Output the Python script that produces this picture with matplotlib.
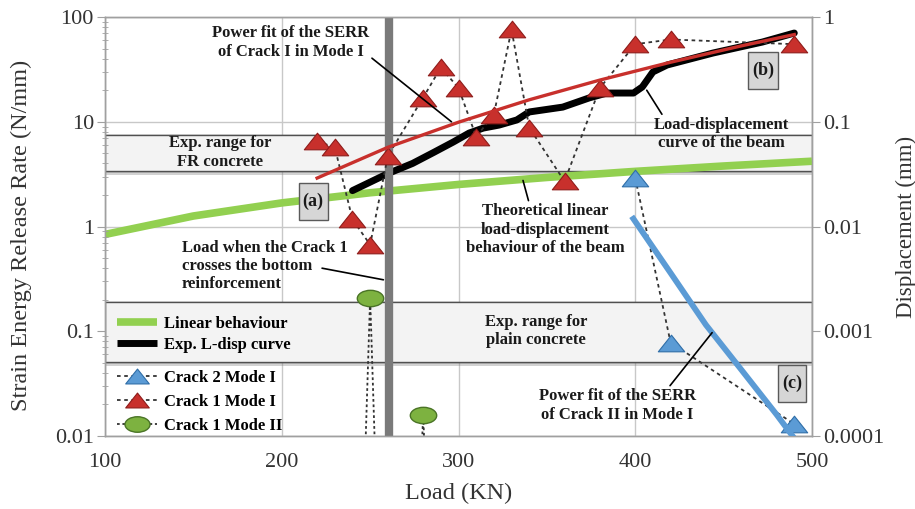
import numpy as np
import matplotlib
matplotlib.use('Agg')
import matplotlib.pyplot as plt
from matplotlib.path import Path
from matplotlib.lines import Line2D
import matplotlib.patheffects as pe

# ---------------- data ----------------
load_c1m1 = [220, 230, 240, 250, 260, 280, 290, 300, 310, 320, 330, 340, 360, 380, 400, 420, 490]
serr_c1m1 = [6.5, 5.7, 1.17, 0.67, 4.7, 17, 33, 21, 7.2, 11.7, 76, 8.8, 2.7, 21, 55, 61, 55]
load_c2m1 = [400, 420, 490]
serr_c2m1 = [2.9, 0.078, 0.013]
load_c1m2 = [240, 250, 260, 270, 280, 290]
serr_c1m2 = [1e-6, 0.21, 1e-6, 1e-6, 0.016, 1e-6]
fit1_load = [220, 260, 300, 340, 380, 420, 460, 490]
fit1_serr = [2.9, 5.7, 9.9, 16.2, 25, 37, 53, 68]
fit2_load = [398, 420, 440, 460, 480, 490]
fit2_serr = [1.25, 0.36, 0.115, 0.043, 0.016, 0.0095]
lin_load = [100, 150, 200, 250, 300, 350, 400, 450, 500]
lin_disp = [0.0084, 0.0126, 0.0168, 0.021, 0.0252, 0.0294, 0.0336, 0.0378, 0.042]
exp_load = [240, 260, 274, 286, 297, 306, 314, 323, 333, 340, 359, 374, 384, 399, 404, 410, 418, 444, 472, 490]
exp_disp = [0.022, 0.032, 0.040, 0.051, 0.064, 0.078, 0.087, 0.093, 0.104, 0.124, 0.138, 0.169,
            0.188, 0.188, 0.215, 0.299, 0.348, 0.453, 0.577, 0.703]
fr_range = [3.4, 7.4]        # N/mm
plain_range = [0.051, 0.19]  # N/mm
reinf_load = 260.5
xticks = [100, 200, 300, 400, 500]
yticks_l = [0.01, 0.1, 1, 10, 100]
yticklabels_l = ['0.01', '0.1', '1', '10', '100']
yticks_r = [0.0001, 0.001, 0.01, 0.1, 1]
yticklabels_r = ['0.0001', '0.001', '0.01', '0.1', '1']

# ---------------- style ----------------
SERIF = 'Liberation Serif'
plt.rcParams['font.family'] = [SERIF, 'DejaVu Serif']
RED = '#C8302C'
RED_E = '#8E1C1A'
BLUE = '#5B9BD5'
BLUE_E = '#2F6EA8'
GREEN = '#92D050'
GREEN_C = '#7DB240'
GREEN_E = '#4A7426'
GRID = '#C8C8C8'
SPINE = '#A0A0A0'
TXT = '#333333'

tri = [(-1.0, -0.63), (1.0, -0.63), (0.0, 0.63), (-1.0, -0.63)]
tri_marker = Path(tri, [Path.MOVETO, Path.LINETO, Path.LINETO, Path.CLOSEPOLY])
circ = Path.unit_circle()
ell_marker = Path(circ.vertices * np.array([1.0, 0.62]), circ.codes)

fig = plt.figure(figsize=(9.15, 5.09), dpi=100)
ax = fig.add_axes([0.1148, 0.1434, 0.7726, 0.8232])
ax2 = ax.twinx()
ax.set_zorder(ax2.get_zorder() + 1)
ax.patch.set_visible(False)
ax2.patch.set_visible(True)
ax2.patch.set_facecolor('white')

ax.set_yscale('log')
ax2.set_yscale('log')
ax.set_xlim(100, 500)
ax.set_ylim(0.01, 100)
ax2.set_ylim(0.0001, 1)

# back axes: grid, bands, displacement curves
ax2.xaxis.set_visible(True)
ax2.tick_params(axis='x', bottom=False, top=False, labelbottom=False, labeltop=False)
ax2.set_xticks(xticks)
ax2.grid(True, which='major', color=GRID, lw=1.0, zorder=0)
ax2.set_axisbelow(True)

shadow = [pe.withSimplePatchShadow(offset=(0, -3), shadow_rgbFace='#808080', alpha=0.35), pe.Normal()]
for lo, hi in (fr_range, plain_range):
    r = ax2.axhspan(lo / 100.0, hi / 100.0, facecolor='#F3F3F3', edgecolor='#505050', lw=1.0, zorder=1)
    r.set_path_effects(shadow)

ax2.plot(lin_load, lin_disp, color=GREEN, lw=5.5, solid_capstyle='butt', zorder=3)
ax2.plot(exp_load, exp_disp, color='black', lw=5.0, solid_capstyle='round', zorder=4)

# front axes
ax.axvline(reinf_load, color='#7A7A7A', lw=6, zorder=1)
ax.plot(load_c1m2, serr_c1m2, linestyle=(0, (1.5, 1.5)), color='#333333', lw=1.3, zorder=2)
ax.plot(load_c1m2, serr_c1m2, linestyle='none', marker=ell_marker, markersize=19,
        markerfacecolor=GREEN_C, markeredgecolor=GREEN_E, markeredgewidth=1.0, zorder=3)
ax.plot(load_c1m1, serr_c1m1, linestyle=(0, (2, 2)), color='#333333', lw=1.3, zorder=2)
ax.plot(load_c1m1, serr_c1m1, linestyle='none', marker=tri_marker, markersize=19,
        markerfacecolor=RED, markeredgecolor=RED_E, markeredgewidth=0.8, zorder=3)
ax.plot(load_c2m1, serr_c2m1, linestyle=(0, (2, 2)), color='#333333', lw=1.3, zorder=2)
ax.plot(load_c2m1, serr_c2m1, linestyle='none', marker=tri_marker, markersize=19,
        markerfacecolor=BLUE, markeredgecolor=BLUE_E, markeredgewidth=0.8, zorder=3)
ax.plot(fit1_load, fit1_serr, color=RED, lw=2.4, zorder=5)
ax.plot(fit2_load, fit2_serr, color=BLUE, lw=4.2, zorder=5, solid_capstyle='butt')

# ticks
ax.set_xticks(xticks)
ax.set_xticklabels([str(v) for v in xticks])
ax.set_yticks(yticks_l)
ax.set_yticklabels(yticklabels_l)
ax2.set_yticks(yticks_r)
ax2.set_yticklabels(yticklabels_r)
ax2.yaxis.set_minor_locator(matplotlib.ticker.NullLocator())
ax.yaxis.set_minor_locator(matplotlib.ticker.LogLocator(base=10, subs=np.arange(2, 10)))
ax.yaxis.set_minor_formatter(matplotlib.ticker.NullFormatter())
ax.tick_params(axis='y', which='major', direction='out', length=6, color=SPINE, labelsize=16,
               labelcolor=TXT, pad=2, right=False)
ax.tick_params(axis='y', which='minor', direction='inout', length=4, color=SPINE, right=False)
ax.tick_params(axis='x', which='major', length=0, labelsize=16, labelcolor=TXT, pad=12)
ax2.tick_params(axis='y', which='major', direction='out', length=6, color=SPINE, labelsize=16,
                labelcolor=TXT, pad=2)
for a in (ax, ax2):
    for s in a.spines.values():
        s.set_color(SPINE)
        s.set_linewidth(1.0)

ax.set_xlabel('Load (KN)', fontsize=17.5, color=TXT)
ax.xaxis.set_label_coords(0.5, -0.113)
ax.set_ylabel('Strain Energy Release Rate (N/mm)', fontsize=17.5, color=TXT)
ax.yaxis.set_label_coords(-0.103, 0.48)
ax2.set_ylabel('Displacement (mm)', fontsize=16.5, color=TXT)
ax2.yaxis.set_label_coords(1.118, 0.5)

# annotations
tkw = dict(fontsize=12, fontweight='bold', color='#1A1A1A', linespacing=1.2)
akw = dict(arrowstyle='-', color='black', lw=1.2, shrinkA=0, shrinkB=0)
ax.annotate('Power fit of the SERR\nof Crack I in Mode I', xy=(296, 10), xytext=(205, 57),
            ha='center', va='center', arrowprops=dict(relpos=(0.97, 0.22), **akw), zorder=6, **tkw)
ax.text(165, 5.1, 'Exp. range for\nFR concrete', ha='center', va='center', zorder=6, **tkw)
ax.annotate('Load-displacement\ncurve of the beam', xy=(406.5, 20), xytext=(449, 7.6),
            ha='center', va='center', arrowprops=dict(relpos=(0.07, 1.0), **akw), zorder=6, **tkw)
ax.annotate('Theoretical linear\nload-displacement\nbehaviour of the beam', xy=(336.5, 2.75), xytext=(349, 0.93),
            ha='center', va='center', arrowprops=dict(relpos=(0.4, 1.0), **akw), zorder=6, **tkw)
ax.text(143.5, 0.42, 'Load when the Crack 1\ncrosses the bottom\nreinforcement',
        ha='left', va='center', zorder=6, **tkw)
ax.annotate('', xy=(257.5, 0.31), xytext=(222.8, 0.40), arrowprops=akw, zorder=6)
ax.text(344, 0.1, 'Exp. range for\nplain concrete', ha='center', va='center', zorder=6, **tkw)
ax.annotate('Power fit of the SERR\nof Crack II in Mode I', xy=(443.5, 0.097), xytext=(390, 0.0195),
            ha='center', va='center', arrowprops=dict(relpos=(0.82, 1.0), **akw), zorder=6, **tkw)

bkw = dict(fontsize=13, fontweight='bold', color='#1A1A1A', ha='center', va='center', zorder=7,
           bbox=dict(boxstyle='square,pad=0.22', mutation_aspect=2.5, facecolor='#D6D6D6',
                     edgecolor='#5A5A5A', lw=1.0))
ax.text(217.7, 1.73, '(a)', **bkw)
ax.text(472.3, 30.8, '(b)', **bkw)
ax.text(488.7, 0.032, '(c)', **bkw)

# legends
lprop = dict(family=SERIF, weight='bold', size=12)
h1 = [Line2D([], [], color=GREEN, lw=5.5, solid_capstyle='butt'),
      Line2D([], [], color='black', lw=5.0, solid_capstyle='butt')]
leg1 = ax.legend(h1, ['Linear behaviour', 'Exp. L-disp curve'], loc='upper left',
                 bbox_to_anchor=(0.0, 0.315), frameon=False, prop=lprop, handlelength=2.4,
                 handletextpad=0.45, labelspacing=0.3, borderaxespad=0.3)
ax.add_artist(leg1)
h2 = [Line2D([], [], color='#333333', lw=1.3, linestyle=(0, (2, 2)), marker=tri_marker, markersize=17,
             markerfacecolor=BLUE, markeredgecolor=BLUE_E, markeredgewidth=0.8),
      Line2D([], [], color='#333333', lw=1.3, linestyle=(0, (2, 2)), marker=tri_marker, markersize=17,
             markerfacecolor=RED, markeredgecolor=RED_E, markeredgewidth=0.8),
      Line2D([], [], color='#333333', lw=1.3, linestyle=(0, (1.5, 1.5)), marker=ell_marker, markersize=18,
             markerfacecolor=GREEN_C, markeredgecolor=GREEN_E, markeredgewidth=1.0)]
leg2 = ax.legend(h2, ['Crack 2 Mode I', 'Crack 1 Mode I', 'Crack 1 Mode II'], loc='upper left',
                 bbox_to_anchor=(0.0, 0.185), frameon=False, prop=lprop, handlelength=2.4,
                 handletextpad=0.45, labelspacing=0.48, borderaxespad=0.3)
leg1.set_zorder(8)
leg2.set_zorder(8)

fig.savefig('out.png', dpi=100)
